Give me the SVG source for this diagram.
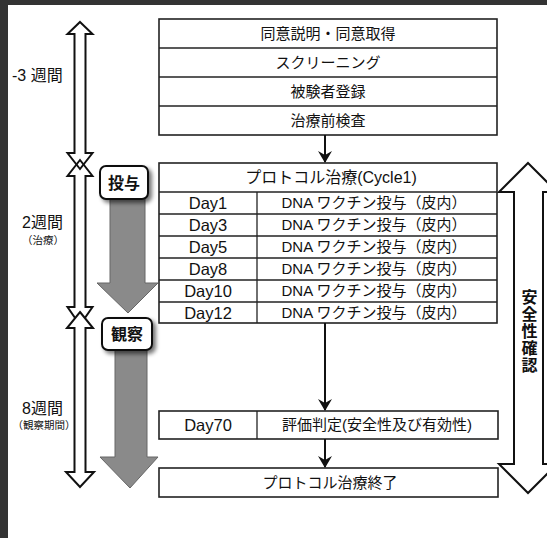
<svg xmlns="http://www.w3.org/2000/svg" width="547" height="538" viewBox="0 0 547 538">
<defs>
<style>
.t{font-family:"Liberation Sans","Noto Sans CJK JP",sans-serif;font-size:15px;fill:#111;}
.c{text-anchor:middle;}
.d{font-size:16.5px;}
.w{font-size:16px;}
.s{font-size:10.5px;}
.b{font-weight:bold;}
.box{fill:#fff;stroke:#222;stroke-width:1.6;}
.ln{stroke:#222;stroke-width:1.3;fill:none;}
.oa{fill:#fff;stroke:#111;stroke-width:2;stroke-linejoin:miter;}
.ga{fill:#8a8a8a;stroke:#666;stroke-width:1;}
.lb{fill:#fff;stroke:#111;stroke-width:2;}
.conn{stroke:#111;stroke-width:2;fill:none;}
</style>
<marker id="ah" markerUnits="userSpaceOnUse" markerWidth="14" markerHeight="12" refX="7" refY="11" orient="0" viewBox="0 0 14 12">
<path d="M0,0 L7,4 L14,0 L7,12 Z" fill="#111"/>
</marker>
<filter id="sh" x="-30%" y="-30%" width="160%" height="160%">
<feGaussianBlur in="SourceAlpha" stdDeviation="2"/>
<feOffset dx="3" dy="3" result="b"/>
<feComponentTransfer><feFuncA type="linear" slope="0.55"/></feComponentTransfer>
<feMerge><feMergeNode/><feMergeNode in="SourceGraphic"/></feMerge>
</filter>
</defs>
<rect width="547" height="538" fill="#fff"/>
<!-- scan border -->
<g id="border">
<rect x="0" y="0" width="8" height="538" fill="#333"/>
<rect x="0" y="0" width="547" height="5" fill="#333"/>
</g>

<!-- left timeline -->
<g id="timeline">
<path class="oa" d="M80,22 L92.5,34 L85.5,34 L85.5,153 L92.5,153 L80,169 L67.5,153 L74.5,153 L74.5,34 L67.5,34 Z"/>
<path class="oa" style="fill:none" d="M80,160 L92.5,176 L85.5,176 L85.5,307 L92.5,307 L80,325 L67.5,307 L74.5,307 L74.5,176 L67.5,176 Z"/>
<path class="oa" d="M80,312 L93,328 L85.5,328 L85.5,472 L94,472 L80,487 L66,472 L74.5,472 L74.5,328 L67,328 Z"/>
<text class="t w" x="12" y="81">-3 週間</text>
<text class="t w" x="22" y="228">2週間</text>
<text class="t s c" x="43" y="244">（治療）</text>
<text class="t w" x="22" y="414">8週間</text>
<text class="t s c" x="44" y="429">（観察期間）</text>
</g>

<!-- gray phase arrows -->
<g id="phase-dosing">
<path class="ga" d="M110,196 L145,196 L145,283 L158,283 L128,313 L97,283 L110,283 Z"/>
<rect class="lb" x="100" y="166" width="48" height="33" rx="6" filter="url(#sh)"/>
<text class="t c b" x="124" y="189" style="font-size:16px">投与</text>
</g>
<g id="phase-observation">
<path class="ga" d="M115,347 L147,347 L147,457 L158,457 L130,488 L100,457 L115,457 Z"/>
<rect class="lb" x="102" y="318" width="50" height="32" rx="6" filter="url(#sh)"/>
<text class="t c b" x="127" y="340" style="font-size:16px">観察</text>
</g>

<!-- safety arrow -->
<g id="safety">
<path class="oa" d="M528,163 L557,192 L543,192 L543,464 L557,464 L528,493 L499,464 L514,464 L514,192 L499,192 Z"/>
<text class="t b" x="528" y="331" style="writing-mode:vertical-rl;text-anchor:middle;font-size:16px;letter-spacing:1px">安全性確認</text>
</g>

<!-- pre-treatment steps -->
<g id="pre">
<rect class="box" x="159" y="19" width="338" height="116"/>
<line class="ln" x1="159" y1="48" x2="497" y2="48"/>
<line class="ln" x1="159" y1="77" x2="497" y2="77"/>
<line class="ln" x1="159" y1="106" x2="497" y2="106"/>
<text class="t c" x="328" y="39">同意説明・同意取得</text>
<text class="t c" x="328" y="68">スクリーニング</text>
<text class="t c" x="328" y="97">被験者登録</text>
<text class="t c" x="328" y="126">治療前検査</text>
</g>

<!-- protocol cycle -->
<g id="protocol">
<rect class="box" x="159" y="163" width="338" height="160"/>
<line class="ln" x1="159" y1="192" x2="497" y2="192"/>
<line class="ln" x1="159" y1="214" x2="497" y2="214"/>
<line class="ln" x1="159" y1="236" x2="497" y2="236"/>
<line class="ln" x1="159" y1="258" x2="497" y2="258"/>
<line class="ln" x1="159" y1="280" x2="497" y2="280"/>
<line class="ln" x1="159" y1="302" x2="497" y2="302"/>
<line class="ln" x1="257" y1="192" x2="257" y2="323"/>
<text class="t c w" x="331" y="183">プロトコル治療(Cycle1)</text>
<text class="t c d" x="208" y="209">Day1</text>
<text class="t c d" x="208" y="231">Day3</text>
<text class="t c d" x="208" y="253">Day5</text>
<text class="t c d" x="208" y="275">Day8</text>
<text class="t c d" x="208" y="297">Day10</text>
<text class="t c d" x="208" y="319">Day12</text>
<text class="t c" x="374" y="208">DNA ワクチン投与（皮内）</text>
<text class="t c" x="374" y="230">DNA ワクチン投与（皮内）</text>
<text class="t c" x="374" y="252">DNA ワクチン投与（皮内）</text>
<text class="t c" x="374" y="274">DNA ワクチン投与（皮内）</text>
<text class="t c" x="374" y="296">DNA ワクチン投与（皮内）</text>
<text class="t c" x="374" y="318">DNA ワクチン投与（皮内）</text>
</g>

<!-- evaluation -->
<g id="evaluation">
<rect class="box" x="159" y="411" width="339" height="28"/>
<line class="ln" x1="257" y1="411" x2="257" y2="439"/>
<text class="t c d" x="208" y="431">Day70</text>
<text class="t c" x="377" y="430">評価判定(安全性及び有効性)</text>
</g>

<!-- end -->
<g id="end">
<rect class="box" x="159" y="468" width="339" height="29"/>
<text class="t c" x="330" y="488">プロトコル治療終了</text>
</g>

<!-- connectors -->
<g id="connectors">
<line class="conn" x1="325" y1="135" x2="325" y2="162" marker-end="url(#ah)"/>
<line class="conn" x1="325" y1="323" x2="325" y2="410" marker-end="url(#ah)"/>
<line class="conn" x1="325" y1="439" x2="325" y2="467" marker-end="url(#ah)"/>
</g>
</svg>
